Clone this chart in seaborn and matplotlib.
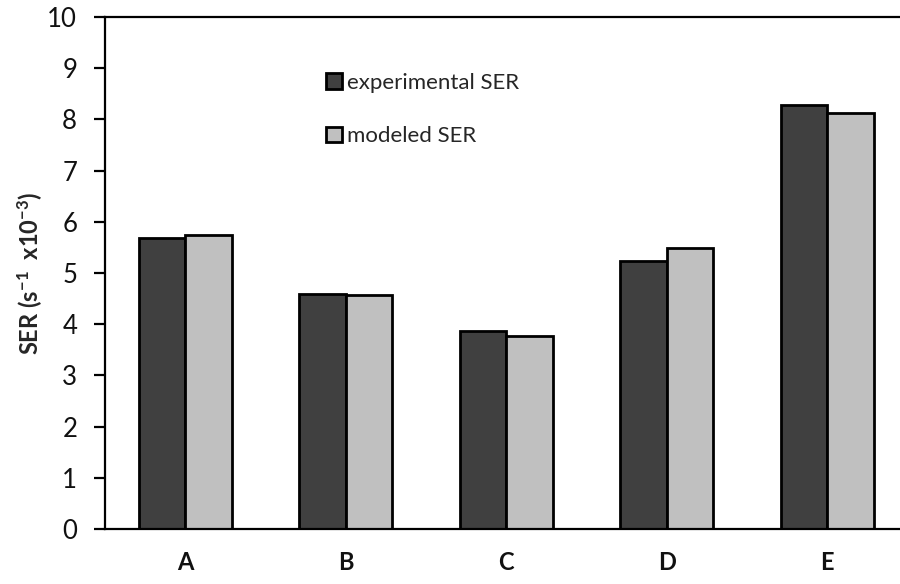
import matplotlib
matplotlib.use("Agg")
import matplotlib.pyplot as plt
import seaborn as sns
import pandas as pd

categories = ["A", "B", "C", "D", "E"]
experimental = [5.68, 4.59, 3.87, 5.23, 8.29]
modeled = [5.74, 4.57, 3.76, 5.48, 8.13]
series_names = ["experimental SER", "modeled SER"]
yticks = [0, 1, 2, 3, 4, 5, 6, 7, 8, 9, 10]

df = pd.DataFrame({
    "cat": categories * 2,
    "val": experimental + modeled,
    "series": [series_names[0]] * len(categories) + [series_names[1]] * len(categories),
})

sns.set_theme(style="white")
plt.rcParams["font.family"] = ["Lato", "DejaVu Sans"]
plt.rcParams["mathtext.fontset"] = "custom"
plt.rcParams["mathtext.rm"] = "Lato"
plt.rcParams["mathtext.bf"] = "Lato:bold"
plt.rcParams["mathtext.default"] = "bf"

fig = plt.figure(figsize=(9, 5.84), dpi=100)
ax = fig.add_axes([105 / 900, 55 / 584, 802.5 / 900, 512 / 584])

sns.barplot(data=df, x="cat", y="val", hue="series", order=categories,
            hue_order=series_names,
            palette={series_names[0]: "#404040", series_names[1]: "#c0c0c0"},
            width=0.58, gap=0, edgecolor="black", linewidth=2.0, ax=ax,
            legend=True)

ax.set_xlim(-0.5, 4.5)
ax.set_ylim(0, 10)
ax.set_yticks(yticks)
ax.set_yticklabels([str(t) for t in yticks], fontsize=18.5, color="#111111")
ax.set_xticks(range(len(categories)))
ax.set_xticklabels(categories, fontsize=17, fontweight="bold", color="#111111")
ax.tick_params(axis="y", direction="out", length=8, width=1.6, color="black", pad=12, left=True)
ax.tick_params(axis="x", length=0, pad=16)
ax.set_xlabel("")
ax.set_ylabel(r"SER (s$^{-1}$  x10$^{-3}$)", fontsize=17, fontweight="bold", labelpad=2)

for s in ["left", "bottom", "top"]:
    ax.spines[s].set_visible(True)
    ax.spines[s].set_color("black")
    ax.spines[s].set_linewidth(1.6)
ax.spines["right"].set_visible(False)
ax.grid(False)

leg = ax.get_legend()
handles = leg.legend_handles
leg.remove()
fig.legend(handles, series_names, loc="upper left",
           bbox_to_anchor=(326 / 900, 1 - 73 / 584), bbox_transform=fig.transFigure,
           frameon=False, fontsize=16, borderpad=0, borderaxespad=0,
           handlelength=0.72, handleheight=0.72, handletextpad=0.22,
           labelspacing=1.5)

fig.savefig("out.png", dpi=100)
